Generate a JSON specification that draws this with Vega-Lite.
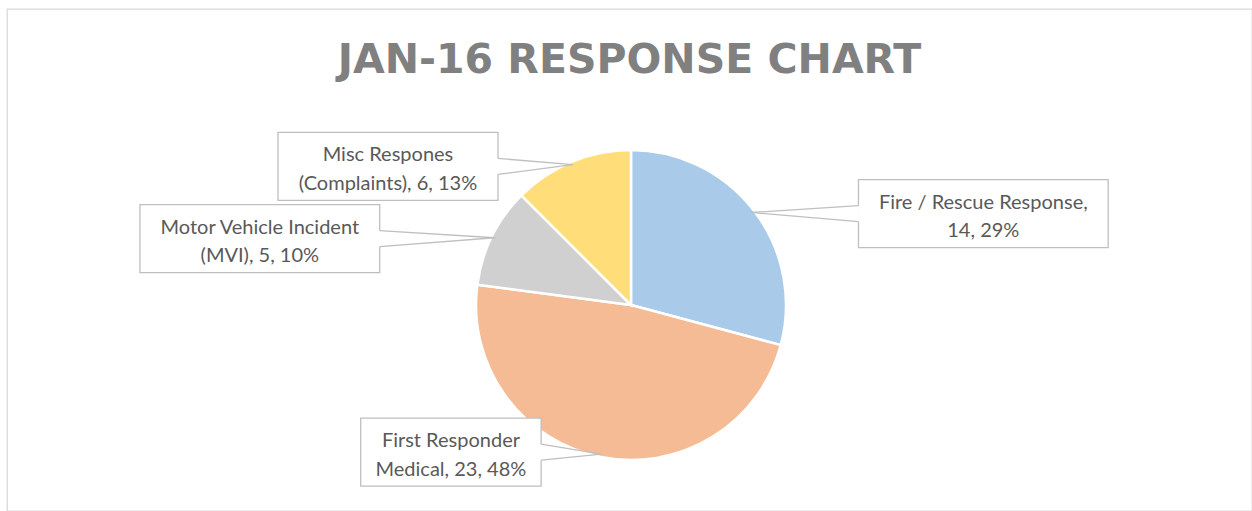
{
  "$schema": "https://vega.github.io/schema/vega-lite/v6.json",
  "width": 1245,
  "height": 502,
  "autosize": {"type": "none"},
  "padding": {"left": 7, "top": 9, "right": 0, "bottom": 0},
  "background": "white",
  "config": {"view": {"stroke": "#D9D9D9", "strokeWidth": 1.3}, "font": "Lato"},
  "title": {
    "text": "JAN-16 RESPONSE CHART",
    "font": "DejaVu Sans",
    "fontSize": 41,
    "fontWeight": "bold",
    "color": "#808080",
    "anchor": "middle",
    "frame": "group",
    "baseline": "alphabetic",
    "offset": -105
  },
  "data": {
    "values": [
      {"category": "Fire / Rescue Response", "count": 14, "label": ["Fire / Rescue Response,", "14, 29%"]},
      {"category": "First Responder Medical", "count": 23, "label": ["First Responder", "Medical, 23, 48%"]},
      {"category": "Motor Vehicle Incident (MVI)", "count": 5, "label": ["Motor Vehicle Incident", "(MVI), 5, 10%"]},
      {"category": "Misc Respones (Complaints)", "count": 6, "label": ["Misc Respones", "(Complaints), 6, 13%"]}
    ]
  },
  "transform": [
    {"window": [{"op": "row_number", "as": "idx"}, {"op": "sum", "field": "count", "as": "cum"}], "frame": [null, 0]},
    {"joinaggregate": [{"op": "sum", "field": "count", "as": "total"}]},
    {"calculate": "2*PI*(datum.cum - datum.count/2)/datum.total", "as": "mid"},
    {"calculate": "sin(datum.mid)", "as": "sx"},
    {"calculate": "cos(datum.mid)", "as": "cy"},
    {"calculate": "datum.sx >= 0 ? 1 : -1", "as": "side"},
    {"calculate": "152*datum.sx", "as": "ex"},
    {"calculate": "152*datum.cy", "as": "ey"},
    {"calculate": "datum.side*(230*abs(datum.sx)+45)", "as": "ax"},
    {"calculate": "150*datum.cy", "as": "ay"},
    {"calculate": "max(length(datum.label[0]), length(datum.label[1]))*9.9+22", "as": "bw"},
    {"calculate": "datum.ax + datum.side*datum.bw", "as": "bx2"},
    {"calculate": "datum.ax + datum.side*datum.bw/2", "as": "tx"},
    {"calculate": "datum.ay + 5", "as": "ty"},
    {"calculate": "datum.ay + 34", "as": "ytop"},
    {"calculate": "datum.ay - 34", "as": "ybot"},
    {"calculate": "datum.ay + 8", "as": "b1"},
    {"calculate": "datum.ay - 8", "as": "b2"}
  ],
  "layer": [
    {
      "mark": {"type": "arc", "outerRadius": 155, "stroke": "white", "strokeWidth": 2.5},
      "encoding": {
        "x": {"datum": 0, "type": "quantitative", "scale": {"domain": [-624, 621], "nice": false, "zero": false}, "axis": null},
        "y": {"datum": 0, "type": "quantitative", "scale": {"domain": [-206, 296], "nice": false, "zero": false}, "axis": null},
        "theta": {"field": "count", "type": "quantitative", "stack": true},
        "order": {"field": "idx", "type": "quantitative"},
        "color": {
          "field": "category",
          "type": "nominal",
          "scale": {
            "domain": ["Fire / Rescue Response", "First Responder Medical", "Motor Vehicle Incident (MVI)", "Misc Respones (Complaints)"],
            "range": ["#A9CBE9", "#F5BB94", "#D0D0D0", "#FFDE7A"]
          },
          "legend": null
        }
      }
    },
    {
      "mark": {"type": "rect", "fill": "white", "stroke": "#BFBFBF", "strokeWidth": 1.3},
      "encoding": {
        "x": {"field": "ax", "type": "quantitative", "scale": {"domain": [-624, 621], "nice": false, "zero": false}, "axis": null},
        "x2": {"field": "bx2"},
        "y": {"field": "ytop", "type": "quantitative", "scale": {"domain": [-206, 296], "nice": false, "zero": false}, "axis": null},
        "y2": {"field": "ybot"}
      }
    },
    {
      "mark": {"type": "rule", "stroke": "white", "strokeWidth": 2.5},
      "encoding": {
        "x": {"field": "ax", "type": "quantitative", "scale": {"domain": [-624, 621], "nice": false, "zero": false}, "axis": null},
        "y": {"field": "b1", "type": "quantitative", "scale": {"domain": [-206, 296], "nice": false, "zero": false}, "axis": null},
        "y2": {"field": "b2"}
      }
    },
    {
      "mark": {"type": "rule", "stroke": "#BFBFBF", "strokeWidth": 1.3},
      "encoding": {
        "x": {"field": "ax", "type": "quantitative", "scale": {"domain": [-624, 621], "nice": false, "zero": false}, "axis": null},
        "x2": {"field": "ex"},
        "y": {"field": "b1", "type": "quantitative", "scale": {"domain": [-206, 296], "nice": false, "zero": false}, "axis": null},
        "y2": {"field": "ey"}
      }
    },
    {
      "mark": {"type": "rule", "stroke": "#BFBFBF", "strokeWidth": 1.3},
      "encoding": {
        "x": {"field": "ax", "type": "quantitative", "scale": {"domain": [-624, 621], "nice": false, "zero": false}, "axis": null},
        "x2": {"field": "ex"},
        "y": {"field": "b2", "type": "quantitative", "scale": {"domain": [-206, 296], "nice": false, "zero": false}, "axis": null},
        "y2": {"field": "ey"}
      }
    },
    {
      "mark": {"type": "text", "font": "Lato", "fontSize": 20, "color": "#595959", "lineHeight": 28.5, "baseline": "alphabetic", "align": "center"},
      "encoding": {
        "x": {"field": "tx", "type": "quantitative", "scale": {"domain": [-624, 621], "nice": false, "zero": false}, "axis": null},
        "y": {"field": "ty", "type": "quantitative", "scale": {"domain": [-206, 296], "nice": false, "zero": false}, "axis": null},
        "text": {"field": "label"}
      }
    }
  ]
}
